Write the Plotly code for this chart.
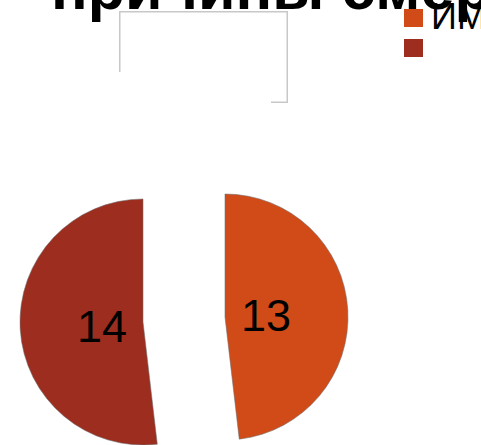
import plotly.graph_objects as go

# Causes of death: two categories and their counts
labels = ["ИМ", ""]
values = [13, 14]
colors = ["#D14B18", "#9C2D1F"]
title_text = "причины смерти"

W, H = 481, 445


def fx(px):
    return px / W


def fy(py):
    return 1 - py / H


TRANSPARENT = "rgba(0,0,0,0)"
FONT = "Liberation Sans, Arial, sans-serif"

# Each slice is drawn by its own pie trace (the other slice left transparent),
# so the two halves can be set apart without shrinking the pie.
slice_domains = [
    dict(x=[fx(102), fx(348)], y=[fy(440), fy(194)]),
    dict(x=[fx(20), fx(266)], y=[fy(445), fy(199)]),
]
# where each slice's count is written
value_label_pos = [(266, 315), (102, 326)]

fig = go.Figure()
annotations = []
for k, dom in enumerate(slice_domains):
    slice_colors = [colors[i] if i == k else TRANSPARENT for i in range(len(values))]
    line_w = [1 if i == k else 0 for i in range(len(values))]
    fig.add_trace(go.Pie(
        labels=labels,
        values=values,
        sort=False,
        direction="clockwise",
        rotation=0,
        domain=dom,
        marker=dict(colors=slice_colors,
                    line=dict(color="rgba(110,110,110,0.55)", width=line_w)),
        textinfo="none",
        showlegend=False,
        hoverinfo="skip",
    ))

# title, partly above the top edge
annotations.append(dict(text=title_text, xref="paper", yref="paper", x=fx(49), y=fy(-48),
                        xanchor="left", yanchor="top", showarrow=False,
                        font=dict(family=FONT, size=61, color="#000000", weight="bold")))
# empty framed text box
annotations.append(dict(text=" ", xref="paper", yref="paper", x=fx(119), y=fy(11),
                        xanchor="left", yanchor="top", showarrow=False, width=166, height=89,
                        borderpad=0, borderwidth=1.5, bordercolor="#C8C8C8",
                        bgcolor="#FFFFFF"))
# white area lying over the lower-left part of the box
annotations.append(dict(text=" ", xref="paper", yref="paper", x=fx(112), y=fy(72),
                        xanchor="left", yanchor="top", showarrow=False, width=159, height=36,
                        borderpad=0, borderwidth=0, bgcolor="#FFFFFF"))

# slice values
for (px, py), v in zip(value_label_pos, values):
    annotations.append(dict(text=str(v), xref="paper", yref="paper", x=fx(px), y=fy(py),
                            xanchor="center", yanchor="middle", showarrow=False,
                            font=dict(family=FONT, size=45, color="#000000")))

# legend: colour squares with category names
shapes = []
for i, (lab, col) in enumerate(zip(labels, colors)):
    top = 9 + 30 * i
    shapes.append(dict(type="rect", xref="paper", yref="paper",
                       x0=fx(404), x1=fx(423), y0=fy(top + 18), y1=fy(top),
                       fillcolor=col, line=dict(width=0)))
    if lab:
        annotations.append(dict(text=lab, xref="paper", yref="paper",
                                x=fx(429), y=fy(top - 15), xanchor="left", yanchor="top",
                                showarrow=False,
                                font=dict(family=FONT, size=36, color="#000000")))

fig.update_layout(
    width=W, height=H, autosize=False,
    margin=dict(l=0, r=0, t=0, b=0, pad=0),
    paper_bgcolor="#FFFFFF", plot_bgcolor="#FFFFFF",
    annotations=annotations, shapes=shapes,
)

fig.write_html("out.html")
